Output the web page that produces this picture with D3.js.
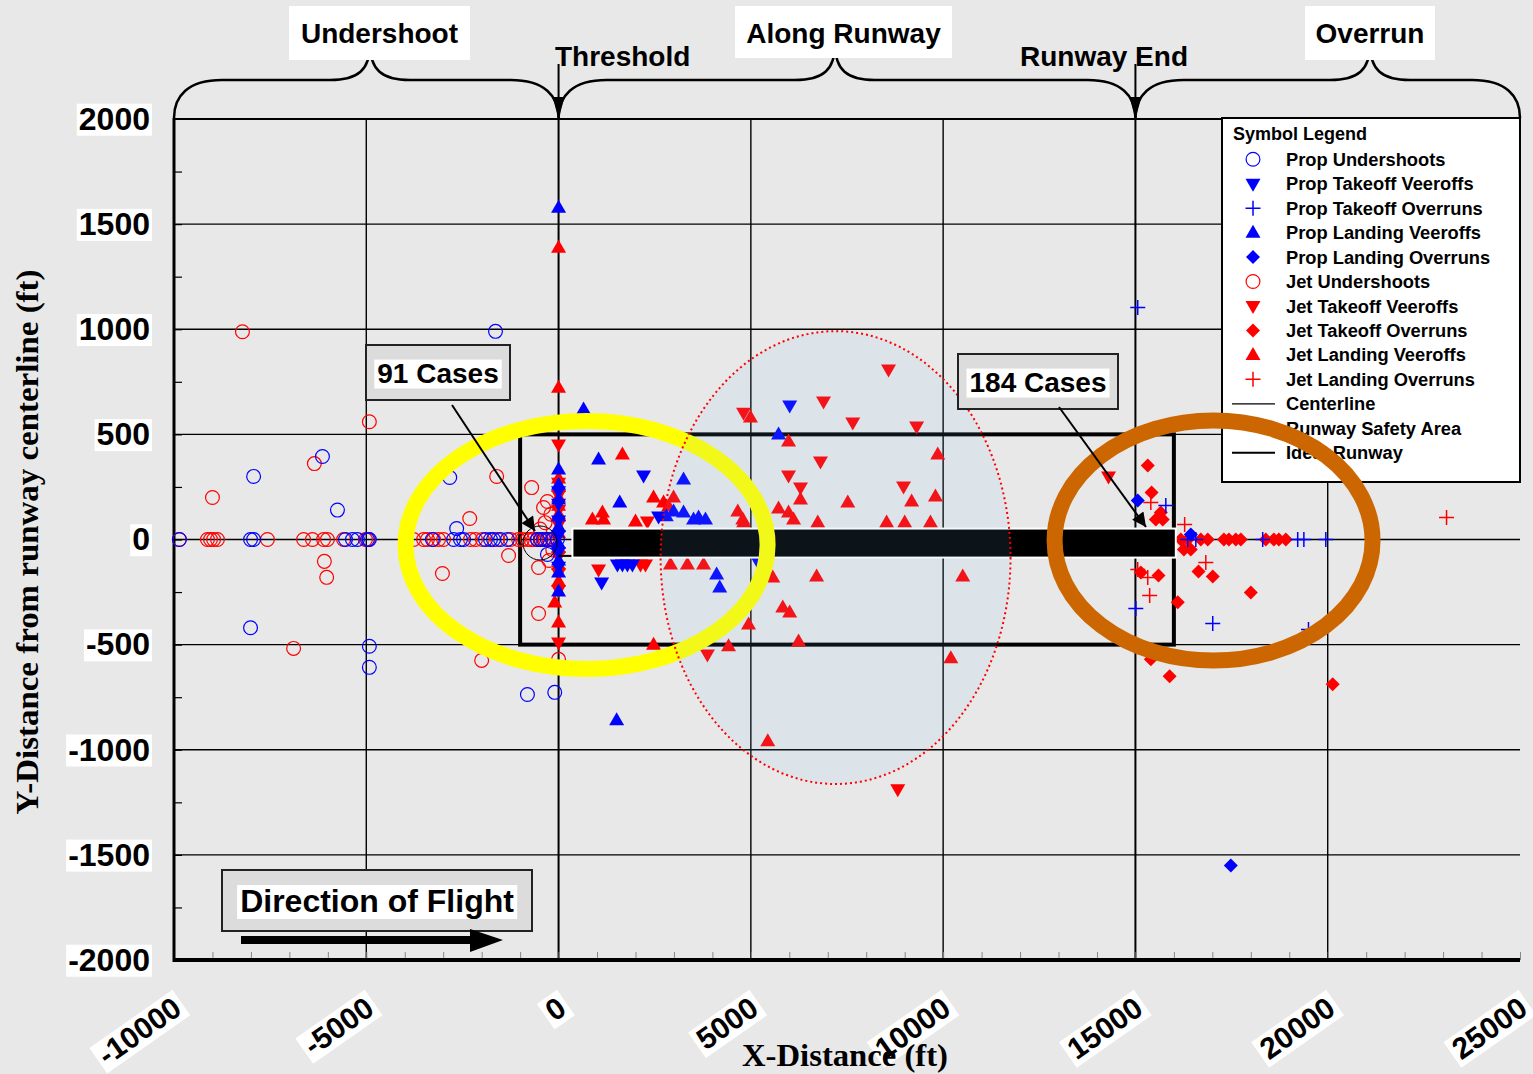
<!DOCTYPE html>
<html>
<head>
<meta charset="utf-8">
<title>Runway excursion locations</title>
<script src="https://d3js.org/d3.v7.min.js"></script>
<style>
  body { margin: 0; background: #e8e8e8; }
  svg { display: block; font-family: "Liberation Sans", Arial, sans-serif; }
</style>
</head>
<body>
<script>
// ---- axis ticks (ft) ----
const xTicks = [-10000, -5000, 0, 5000, 10000, 15000, 20000, 25000];
const yTicks = [2000, 1500, 1000, 500, 0, -500, -1000, -1500, -2000];

// ---- series, [x ft, y ft] ----
const propUndershoots = [
  [-9860,0],[-8010,0],[-7930,0],[-5540,0],[-5360,0],[-5230,0],[-4970,0],[-4920,0],
  [-3280,0],[-2730,0],[-2550,0],[-2470,0],[-1900,0],[-1770,0],[-1690,0],[-1510,0],
  [-1330,0],[-550,0],[-470,0],[-390,0],[-290,0],[-160,0],[-30,0],
  [-7930,300],[-6140,395],[-5750,140],[-8010,-420],[-4920,-508],[-4920,-608],
  [-1640,990],[-2830,295],[-2650,52],[-810,-737],[-100,-727],[-290,-71]
];
const propTakeoffVeeroffs = [
  [2210,304],[2600,109],[6010,637],[1120,-204],[1530,-119],[1660,-119],[1790,-119],
  [1920,-119],[5200,-110],[0,230],[0,170],[0,90],[0,20],[0,-60],[0,-130]
];
const propTakeoffOverruns = [
  [15060,1103],[15790,162],[16360,0],[16570,0],[18310,0],[19220,0],[19380,0],[19950,0],
  [15010,-328],[17010,-399],[19500,-428]
];
const propLandingVeeroffs = [
  [650,618],[1040,380],[1590,176],[3250,285],[2990,133],[3250,128],[3510,95],[3640,105],
  [3820,95],[2800,110],[5720,499],[4110,-166],[4190,-228],[1510,-860],
  [0,1578],[0,333],[0,260],[0,190],[0,110],[0,60],[0,-20],[0,-100],[0,-157],[0,-247]
];
const propLandingOverruns = [[15060,185],[16440,24],[17480,-1550]];

const jetUndershoots = [
  [-9860,0],[-9130,0],[-9050,0],[-8970,0],[-8870,0],[-7570,0],[-6630,0],[-6400,0],[-6110,0],
  [-6010,0],[-5590,0],[-5020,0],[-4940,0],[-3980,0],[-3770,0],[-3510,0],[-3410,0],
  [-3250,0],[-3120,0],[-2990,0],[-2290,0],[-2160,0],[-1980,0],[-1590,0],[-1250,0],
  [-1040,0],[-940,0],[-810,0],[-730,0],[-650,0],[-550,0],[-450,0],[-350,0],[-250,0],[-150,0],
  [-8220,988],[-4920,560],[-9000,200],[-6350,361],[-6090,-104],[-6030,-180],[-6890,-518],
  [-1610,300],[-2310,100],[-3020,-162],[-1300,-76],[-700,247],[-390,152],[-290,181],
  [-520,-352],[-520,-133],[-2000,-575],[0,-570],[-480,50],[-350,80],[-200,120],
  [-150,-50],[-250,-100]
];
const jetTakeoffVeeroffs = [
  [14300,300],[8580,808],[4810,603],[6890,656],[7650,556],[9310,537],[6810,371],
  [5980,304],[8970,252],[6290,247],[2310,86],[1040,-143],[2130,-119],[2260,-119],
  [3870,-547],[8820,-1188],
  [0,452],[0,270],[0,210],[0,140],[0,70],[0,-80],[0,-160],[0,-240],[0,-490]
];
const jetTakeoffOverruns = [
  [15320,352],[15420,223],[15660,128],[15710,95],[15530,95],
  [16180,0],[16360,0],[16700,0],[16880,0],[17300,0],[17430,0],[17610,0],[17740,0],
  [18390,0],[18600,0],[18730,0],[18910,0],
  [16260,-48],[16440,-48],[16640,-152],[17010,-176],[18000,-252],[15140,-157],
  [15600,-171],[16100,-299],[15400,-570],[15890,-651],[20130,-689]
];
const jetLandingVeeroffs = [
  [0,1388],[0,722],[0,290],[0,250],[0,200],[0,160],[0,120],[0,30],[0,-40],[0,-120],
  [0,-200],[-100,-300],[0,-395],
  [1660,404],[2470,200],[2730,176],[2990,200],[2860,157],[880,95],[1140,128],[1170,95],
  [2000,86],[4660,133],[4790,95],[4990,580],[5980,466],[9860,404],[6290,190],[7520,176],
  [9180,181],[9800,204],[5720,147],[5980,128],[6110,95],[6740,81],[8530,81],[9000,81],
  [9670,81],[4810,81],[2910,-119],[3350,-119],[3770,-119],[5570,-181],[6710,-176],
  [10510,-176],[5830,-323],[6010,-347],[4940,-404],[6240,-485],[4420,-508],[2470,-500],
  [10200,-565],[5440,-960]
];
const jetLandingOverruns = [
  [15400,176],[16280,71],[16830,-109],[15060,-143],[15320,-181],[15370,-266],[23090,105]
];

const legendLabels = [
  "Prop Undershoots", "Prop Takeoff Veeroffs", "Prop Takeoff Overruns",
  "Prop Landing Veeroffs", "Prop Landing Overruns", "Jet Undershoots",
  "Jet Takeoff Veeroffs", "Jet Takeoff Overruns", "Jet Landing Veeroffs",
  "Jet Landing Overruns", "Centerline", "Runway Safety Area", "Ideal Runway"
];

// ---- layout ----
const W = 1533, H = 1074;
const x = d3.scaleLinear().domain([-10000, 25000]).range([174, 1520]);
const y = d3.scaleLinear().domain([-2000, 2000]).range([960, 119]);
const BLUE = "#0000ff", RED = "#ff0000";
const fmt = d => String(d);   // plain hyphen, not unicode minus

const svg = d3.select("body").append("svg")
  .attr("width", W).attr("height", H)
  .style("background", "#e8e8e8");

// symbol paths
const sym = {
  circle: d3.symbol(d3.symbolCircle, 150)(),
  up: "M0,-8L7.5,5L-7.5,5Z",
  down: "M0,8L7.5,-5L-7.5,-5Z",
  diamond: "M0,-7L7,0L0,7L-7,0Z",
  plus: "M-7.5,0H7.5M0,-7.5V7.5"
};
const styleFor = (shape, color) => shape === "circle"
  ? { fill: "none", stroke: color, sw: 1.2 }
  : shape === "plus" ? { fill: "none", stroke: color, sw: 1.5 }
  : { fill: color, stroke: "none", sw: 0 };

// jet first, prop drawn over it
const series = [
  { data: jetUndershoots, shape: "circle", color: RED },
  { data: jetTakeoffVeeroffs, shape: "down", color: RED },
  { data: jetTakeoffOverruns, shape: "diamond", color: RED },
  { data: jetLandingVeeroffs, shape: "up", color: RED },
  { data: jetLandingOverruns, shape: "plus", color: RED },
  { data: propUndershoots, shape: "circle", color: BLUE },
  { data: propTakeoffVeeroffs, shape: "down", color: BLUE },
  { data: propTakeoffOverruns, shape: "plus", color: BLUE },
  { data: propLandingVeeroffs, shape: "up", color: BLUE },
  { data: propLandingOverruns, shape: "diamond", color: BLUE }
];

// ---- grid ----
const grid = svg.append("g");
grid.selectAll(".vg").data([-5000, 0, 5000, 10000, 15000, 20000]).join("line")
  .attr("x1", d => x(d)).attr("x2", d => x(d))
  .attr("y1", y(2000)).attr("y2", y(-2000))
  .attr("stroke", "#000").attr("stroke-width", d => (d === 0 || d === 15000) ? 2 : 1.4);
grid.selectAll(".hg").data([1500, 1000, 500, 0, -500, -1000, -1500]).join("line")
  .attr("x1", x(-10000)).attr("x2", x(25000))
  .attr("y1", d => y(d)).attr("y2", d => y(d))
  .attr("stroke", "#000").attr("stroke-width", 1.4);
// top border
grid.append("line").attr("x1", x(-10000)).attr("x2", x(25000))
  .attr("y1", y(2000)).attr("y2", y(2000)).attr("stroke", "#000").attr("stroke-width", 2);

// minor ticks
svg.append("g").attr("transform", `translate(0,${y(-2000)})`)
  .call(d3.axisBottom(x).ticks(35).tickSize(-8).tickFormat(""))
  .call(g => g.select(".domain").remove())
  .call(g => g.selectAll("line").attr("stroke", "#888").attr("stroke-width", 1));
svg.append("g").attr("transform", `translate(${x(-10000)},0)`)
  .call(d3.axisLeft(y).tickValues(d3.range(-1750, 2000, 250)).tickSize(-8).tickFormat(""))
  .call(g => g.select(".domain").remove())
  .call(g => g.selectAll("line").attr("stroke", "#000").attr("stroke-width", 1.2));

// axis lines
svg.append("line").attr("x1", x(-10000)).attr("x2", x(-10000))
  .attr("y1", y(2000) - 1).attr("y2", y(-2000) + 2).attr("stroke", "#000").attr("stroke-width", 3);
svg.append("line").attr("x1", x(-10000) - 1).attr("x2", x(25000))
  .attr("y1", y(-2000)).attr("y2", y(-2000)).attr("stroke", "#000").attr("stroke-width", 4);

// ---- y tick labels ----
const yAx = svg.append("g").attr("transform", `translate(${x(-10000)},0)`)
  .call(d3.axisLeft(y).tickValues(yTicks).tickSize(0).tickPadding(24).tickFormat(fmt));
yAx.select(".domain").remove();
yAx.selectAll("text").attr("font-size", 32).attr("font-weight", "bold")
  .attr("font-family", "Liberation Sans, Arial").attr("fill", "#000");
yAx.selectAll(".tick").each(function () {
  const t = d3.select(this).select("text");
  const b = t.node().getBBox();
  d3.select(this).insert("rect", "text")
    .attr("x", b.x - 2).attr("y", b.y + 3).attr("width", b.width + 4).attr("height", b.height - 4)
    .attr("fill", "#fff");
});

// ---- x tick labels ----
const xAx = svg.append("g").attr("transform", `translate(0,${y(-2000)})`)
  .call(d3.axisBottom(x).tickValues(xTicks).tickSize(0).tickFormat(fmt));
xAx.select(".domain").remove();
xAx.selectAll("text")
  .attr("font-size", 30).attr("font-weight", "bold").attr("font-family", "Liberation Sans, Arial")
  .attr("fill", "#000").attr("text-anchor", "end")
  .attr("x", 0).attr("y", 0).attr("dy", "0.35em")
  .attr("transform", "translate(3,44) rotate(-35)");
xAx.selectAll(".tick").each(function () {
  const t = d3.select(this).select("text");
  const b = t.node().getBBox();
  d3.select(this).insert("rect", "text")
    .attr("x", b.x - 4).attr("y", b.y + 2).attr("width", b.width + 8).attr("height", b.height - 2)
    .attr("fill", "#fff").attr("transform", "translate(3,44) rotate(-35)");
});

// axis titles
svg.append("text").attr("x", 845).attr("y", 1066).attr("text-anchor", "middle")
  .attr("font-family", "Liberation Serif, Times New Roman, serif").attr("font-weight", "bold")
  .attr("font-size", 31).attr("textLength", 206).attr("lengthAdjust", "spacingAndGlyphs")
  .text("X-Distance (ft)");
svg.append("text").attr("transform", "translate(38,542) rotate(-90)").attr("text-anchor", "middle")
  .attr("font-family", "Liberation Serif, Times New Roman, serif").attr("font-weight", "bold")
  .attr("font-size", 32).attr("textLength", 545).attr("lengthAdjust", "spacingAndGlyphs")
  .text("Y-Distance from runway centerline (ft)");

// ---- runway safety area ----
svg.append("rect")
  .attr("x", x(-1000)).attr("y", y(500))
  .attr("width", x(16000) - x(-1000)).attr("height", y(-500) - y(500))
  .attr("fill", "none").attr("stroke", "#000").attr("stroke-width", 4);

// ---- points ----
series.forEach(s => {
  const st = styleFor(s.shape, s.color);
  svg.append("g").selectAll("path").data(s.data).join("path")
    .attr("d", sym[s.shape])
    .attr("transform", d => `translate(${x(d[0])},${y(d[1])})`)
    .attr("fill", st.fill).attr("stroke", st.stroke).attr("stroke-width", st.sw);
});

// ---- ideal runway ----
svg.append("line").attr("x1", x(0)).attr("x2", x(400)).attr("y1", y(-78)).attr("y2", y(-78))
  .attr("stroke", "#000").attr("stroke-width", 2);
svg.append("rect")
  .attr("x", x(360)).attr("y", y(52))
  .attr("width", x(16050) - x(360)).attr("height", y(-86) - y(52))
  .attr("fill", "#000").attr("stroke", "#fff").attr("stroke-width", 2);

// ---- legend ----
const lg = svg.append("g");
lg.append("rect").attr("x", 1222).attr("y", 118).attr("width", 298).attr("height", 364)
  .attr("fill", "#fff").attr("stroke", "#000").attr("stroke-width", 2);
lg.append("text").attr("x", 1233).attr("y", 140).attr("font-size", 18).attr("font-weight", "bold")
  .text("Symbol Legend");
const legendShapes = ["circle","down","plus","up","diamond","circle","down","diamond","up","plus","line","none","line"];
const legendColors = [BLUE,BLUE,BLUE,BLUE,BLUE,RED,RED,RED,RED,RED,"#000","#000","#000"];
legendLabels.forEach((lab, i) => {
  const cy = 159.3 + i * 24.45;
  const shape = legendShapes[i];
  if (shape === "line") {
    lg.append("line").attr("x1", 1232).attr("x2", 1275).attr("y1", cy).attr("y2", cy)
      .attr("stroke", "#000").attr("stroke-width", i === 12 ? 2 : 1.2);
  } else if (shape !== "none") {
    const st = styleFor(shape, legendColors[i]);
    lg.append("path").attr("d", sym[shape]).attr("transform", `translate(1253,${cy})`)
      .attr("fill", st.fill).attr("stroke", st.stroke).attr("stroke-width", st.sw);
  }
  lg.append("text").attr("x", 1286).attr("y", cy).attr("dy", "0.36em")
    .attr("font-size", 18.3).attr("font-weight", "bold").text(lab);
});

// ---- highlight ellipses ----
svg.append("ellipse").attr("cx", x(728)).attr("cy", y(-26))
  .attr("rx", x(4707) - x(0)).attr("ry", y(0) - y(590))
  .attr("fill", "none").attr("stroke", "#ffff00").attr("stroke-width", 16);
svg.append("ellipse").attr("cx", x(17032)).attr("cy", y(-5))
  .attr("rx", x(4134) - x(0)).attr("ry", y(0) - y(571))
  .attr("fill", "none").attr("stroke", "#cc6600").attr("stroke-width", 16);
svg.append("ellipse").attr("cx", x(7203)).attr("cy", y(-86))
  .attr("rx", x(4550) - x(0)).attr("ry", y(0) - y(1077))
  .attr("fill", "rgb(130,200,250)").attr("fill-opacity", 0.1)
  .attr("stroke", "#ff0000").attr("stroke-width", 2).attr("stroke-dasharray", "2,3");

// ---- callouts ----
svg.append("defs").append("marker").attr("id", "ah")
  .attr("viewBox", "0 0 10 10").attr("refX", 10).attr("refY", 5)
  .attr("markerWidth", 22).attr("markerHeight", 14).attr("markerUnits", "userSpaceOnUse")
  .attr("orient", "auto")
  .append("path").attr("d", "M0,0L10,5L0,10Z").attr("fill", "#000");

function callout(bx, by, bw, bh, label, fs) {
  const g = svg.append("g");
  g.append("rect").attr("x", bx).attr("y", by).attr("width", bw).attr("height", bh)
    .attr("fill", "#dcdcdc").attr("stroke", "#222").attr("stroke-width", 2);
  const t = g.append("text").attr("x", bx + bw / 2).attr("y", by + bh / 2).attr("dy", "0.36em")
    .attr("text-anchor", "middle").attr("font-size", fs).attr("font-weight", "bold").text(label);
  const b = t.node().getBBox();
  g.insert("rect", "text").attr("x", b.x - 3).attr("y", b.y + 2).attr("width", b.width + 6)
    .attr("height", b.height - 2).attr("fill", "#fff");
  return g;
}
callout(366, 345, 144, 55, "91 Cases", 28);
callout(958, 354, 160, 55, "184 Cases", 28);
svg.append("line").attr("x1", 452).attr("y1", 405).attr("x2", 535).attr("y2", 531)
  .attr("stroke", "#000").attr("stroke-width", 2).attr("marker-end", "url(#ah)");
svg.append("circle").attr("cx", 540).attr("cy", 543).attr("r", 17)
  .attr("fill", "none").attr("stroke", "#000").attr("stroke-width", 1);
svg.append("line").attr("x1", 1059).attr("y1", 407).attr("x2", 1146).attr("y2", 527)
  .attr("stroke", "#000").attr("stroke-width", 2).attr("marker-end", "url(#ah)");

// direction of flight
callout(222, 870, 310, 61, "Direction of Flight", 32);
svg.append("line").attr("x1", 241).attr("x2", 472).attr("y1", 940).attr("y2", 940)
  .attr("stroke", "#000").attr("stroke-width", 8);
svg.append("path").attr("d", "M470,929L503,940L470,952Z").attr("fill", "#000");

// ---- header braces ----
function brace(x0, xm, x1) {
  const yE = 118, yF = 80, yT = 44;
  return `M${x0},${yE}C${x0},96 ${x0 + 14},${yF} ${x0 + 48},${yF}` +
    `L${xm - 40},${yF}C${xm - 12},${yF} ${xm},70 ${xm},${yT}` +
    `C${xm},70 ${xm + 12},${yF} ${xm + 40},${yF}` +
    `L${x1 - 48},${yF}C${x1 - 14},${yF} ${x1},96 ${x1},${yE}`;
}
const hdr = svg.append("g");
[[x(-10000), 370, x(0)], [x(0), 835, x(15000)], [x(15000), 1370, x(25000)]].forEach(b => {
  hdr.append("path").attr("d", brace(...b)).attr("fill", "none")
    .attr("stroke", "#000").attr("stroke-width", 2.5);
});
[x(0), x(15000)].forEach(px => {
  hdr.append("line").attr("x1", px).attr("x2", px).attr("y1", 64).attr("y2", 100)
    .attr("stroke", "#000").attr("stroke-width", 2);
  hdr.append("path").attr("d", `M${px - 6},97L${px + 6},97L${px},119Z`).attr("fill", "#000");
});
const headBoxes = [
  { label: "Undershoot", x0: 289, x1: 470, y0: 6, y1: 60 },
  { label: "Along Runway", x0: 735, x1: 952, y0: 6, y1: 58 },
  { label: "Overrun", x0: 1305, x1: 1435, y0: 6, y1: 60 }
];
headBoxes.forEach(h => {
  hdr.append("rect").attr("x", h.x0).attr("y", h.y0).attr("width", h.x1 - h.x0)
    .attr("height", h.y1 - h.y0).attr("fill", "#fff");
  hdr.append("text").attr("x", (h.x0 + h.x1) / 2).attr("y", 33).attr("dy", "0.36em")
    .attr("text-anchor", "middle").attr("font-size", 28).attr("font-weight", "bold").text(h.label);
});
hdr.append("text").attr("x", 555).attr("y", 56).attr("dy", "0.36em")
  .attr("font-size", 28).attr("font-weight", "bold").text("Threshold");
hdr.append("text").attr("x", 1104).attr("y", 56).attr("dy", "0.36em").attr("text-anchor", "middle")
  .attr("font-size", 28).attr("font-weight", "bold").text("Runway End");
</script>
</body>
</html>
